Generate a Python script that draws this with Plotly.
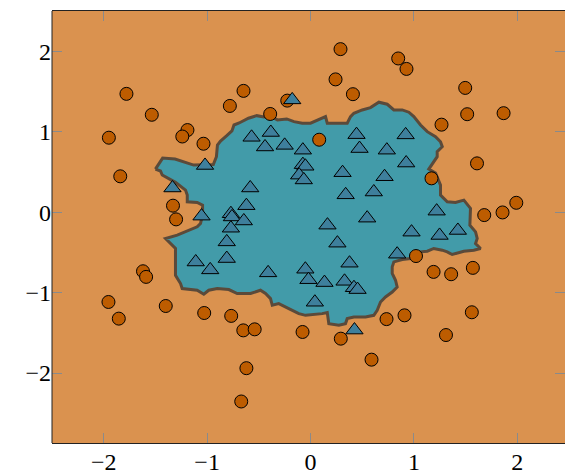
import plotly.graph_objects as go

# ---- data ----
circle_x = [-1.78, -1.535, -1.95, -1.19, -1.24, -1.035, -1.84, -0.648, -0.78, -0.39, -0.225, -1.33, -1.30,
            0.29, 0.848, 0.928, 0.242, 0.41, 1.496, 1.515, 1.867, 1.267, 0.084, 1.61, 1.17, 1.99, 1.857, 1.68,
            -1.62, -1.59, -1.954, -1.854, -1.40, -1.028, -0.767, -0.65, -0.54, -0.077, -0.62, -0.67,
            1.02, 1.19, 1.36, 1.57, 0.735, 0.909, 1.56, 1.31, 0.293, 0.59]
circle_y = [1.47, 1.21, 0.925, 1.02, 0.94, 0.85, 0.445, 1.507, 1.32, 1.22, 1.386, 0.08, -0.09,
            2.026, 1.91, 1.78, 1.65, 1.466, 1.544, 1.217, 1.23, 1.087, 0.90, 0.606, 0.42, 0.116, -0.004, -0.037,
            -0.735, -0.805, -1.117, -1.324, -1.167, -1.254, -1.29, -1.47, -1.457, -1.49, -1.94, -2.354,
            -0.546, -0.743, -0.772, -0.693, -1.33, -1.283, -1.245, -1.528, -1.573, -1.834]

tri_x = [-0.177, -0.57, -0.384, -0.44, -0.25, -0.074, -0.074, -0.05, -0.11, -0.065, -1.02, -1.335, -0.583,
         -0.62, -1.054, -0.77, -0.76, -0.645, 0.445, 0.92, 0.474, 0.738, 0.925, 0.31, 0.716, 0.34, 0.612,
         1.22, 0.548, -0.77, -0.81, -1.11, -0.97, -0.81, -0.41, -0.05, -0.02, 0.164, 0.977, 1.248, 1.425,
         0.26, 0.377, 0.838, 0.135, 0.329, 0.42, 0.455, 0.042, 0.425]
tri_y = [1.395, 0.93, 0.99, 0.81, 0.83, 0.77, 0.59, 0.57, 0.46, 0.40, 0.58, 0.30, 0.30,
         0.08, -0.05, -0.02, -0.06, -0.11, 0.963, 0.96, 0.79, 0.77, 0.61, 0.49, 0.44, 0.215, 0.25,
         0.012, -0.075, -0.20, -0.37, -0.62, -0.718, -0.577, -0.755, -0.71, -0.84, -0.162, -0.249, -0.29, -0.228,
         -0.386, -0.635, -0.523, -0.876, -0.86, -0.94, -0.963, -1.12, -1.466]

# decision region boundary (class "triangle" region)
boundary_x = [-1.50, -1.43, -1.31, -1.23, -1.13, -0.94, -0.91, -0.90, -0.87, -0.81, -0.76, -0.74, -0.69, -0.60,
              -0.52, -0.45, -0.39, -0.32, -0.23, -0.16, -0.08, 0.00, 0.08, 0.145, 0.162, 0.355, 0.387, 0.419,
              0.50, 0.58, 0.661, 0.742, 0.806, 0.887, 0.951, 0.999, 1.064, 1.129, 1.209, 1.257, 1.274, 1.225,
              1.225, 1.192, 1.161, 1.144, 1.209, 1.241, 1.257, 1.257, 1.322, 1.402, 1.483, 1.547, 1.541, 1.596,
              1.612, 1.596, 1.644, 1.579, 1.483, 1.370, 1.322, 1.274, 1.192, 1.129, 1.064, 0.967, 0.887, 0.806,
              0.790, 0.790, 0.822, 0.838, 0.790, 0.725, 0.677, 0.645, 0.612, 0.532, 0.419, 0.355, 0.338, 0.274,
              0.177, 0.162, 0.113, -0.048, -0.113, -0.210, -0.307, -0.370, -0.387, -0.435, -0.484, -0.580,
              -0.709, -0.790, -0.902, -0.984, -1.032, -1.096, -1.241, -1.257, -1.306, -1.306, -1.370, -1.402,
              -1.289, -1.161, -1.096, -1.064, -1.044, -1.044, -1.096, -1.192, -1.192, -1.209, -1.306, -1.434,
              -1.451, -1.50]
boundary_y = [0.535, 0.672, 0.660, 0.626, 0.585, 0.592, 0.689, 0.834, 0.884, 0.950, 1.009, 1.083, 1.108, 1.167,
              1.199, 1.183, 1.196, 1.146, 1.158, 1.125, 1.105, 1.105, 1.146, 1.187, 1.105, 1.105, 1.187, 1.229,
              1.270, 1.299, 1.366, 1.341, 1.270, 1.270, 1.242, 1.187, 1.083, 1.000, 0.938, 0.875, 0.813, 0.751,
              0.689, 0.626, 0.564, 0.535, 0.486, 0.399, 0.336, 0.212, 0.128, 0.121, 0.149, 0.046, -0.162, -0.245,
              -0.328, -0.390, -0.452, -0.473, -0.486, -0.527, -0.494, -0.473, -0.452, -0.486, -0.494, -0.577,
              -0.589, -0.619, -0.681, -0.763, -0.847, -0.930, -0.993, -1.055, -1.117, -1.220, -1.283, -1.304,
              -1.304, -1.324, -1.386, -1.407, -1.386, -1.249, -1.262, -1.283, -1.262, -1.199, -1.137, -1.158,
              -1.075, -1.012, -0.971, -1.012, -1.012, -0.963, -0.950, -0.971, -1.021, -0.971, -0.950, -0.888,
              -0.785, -0.452, -0.370, -0.328, -0.286, -0.224, -0.183, -0.141, -0.037, 0.087, 0.121, 0.128,
              0.212, 0.274, 0.370, 0.461, 0.511, 0.535]

tick_vals = [-2, -1, 0, 1, 2]
x_range = [-2.5, 2.461]
y_range = [-2.87, 2.5]

# ---- styles ----
ORANGE_BG = "#DA924F"
TEAL_BG = "#429BA9"
EDGE = "#5B4A3A"
CIRCLE = "#BD5C00"
TRIANGLE = "#3E7F9C"
FONT = "Liberation Serif"

fig = go.Figure()
fig.add_trace(go.Scatter(x=boundary_x, y=boundary_y, mode="lines", fill="toself",
                         fillcolor=TEAL_BG, line=dict(color=EDGE, width=3),
                         hoverinfo="skip", showlegend=False))
fig.add_trace(go.Scatter(x=circle_x, y=circle_y, mode="markers", showlegend=False,
                         marker=dict(symbol="circle", size=13, color=CIRCLE,
                                     line=dict(color="black", width=1))))
fig.add_trace(go.Scatter(x=tri_x, y=tri_y, mode="markers", showlegend=False,
                         marker=dict(symbol="triangle-up", size=15, color=TRIANGLE,
                                     line=dict(color="black", width=1))))

axis_common = dict(tickvals=tick_vals, ticks="inside", ticklen=10, tickwidth=1,
                   tickcolor="#8a8a8a", showgrid=False, zeroline=False,
                   tickfont=dict(family=FONT, size=24, color="black"))

fig.update_layout(
    width=565, height=470,
    margin=dict(l=52, r=0, t=11, b=27),
    paper_bgcolor="white", plot_bgcolor=ORANGE_BG,
    xaxis=dict(range=x_range, showline=True, linecolor="#222", linewidth=1,
               mirror="ticks", automargin=False, ticklabelstandoff=-3, **axis_common),
    yaxis=dict(range=y_range, showline=False, mirror="ticks", automargin=False,
               **axis_common),
    shapes=[dict(type="line", xref="paper", yref="paper", x0=0, x1=0, y0=0, y1=1,
                 line=dict(color="#222", width=1))],
)

fig.write_html("out.html", config={"displayModeBar": False},
               post_script="document.body.style.margin='0';document.body.style.overflow='hidden';")
